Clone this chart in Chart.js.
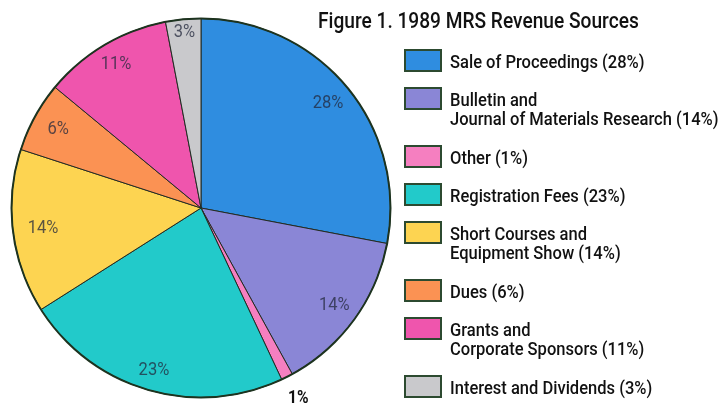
<!DOCTYPE html>
<html lang="en">

<head>
    <meta charset="UTF-8">
    <title>1989 MRS Revenue Sources</title>
    <script src="https://cdn.jsdelivr.net/npm/chart.js"></script>
    <style>
        html, body {
            margin: 0;
            padding: 0;
            background: #ffffff;
        }

        .wrap {
            position: relative;
            width: 724px;
            height: 403px;
        }
    </style>
</head>

<body>
    <div class="wrap">
        <canvas id="receitas" width="724" height="403"></canvas>
    </div>
</body>

</html>

<script>
    // data
    var fontes = [
        ['Sale of Proceedings (28%)'],
        ['Bulletin and', 'Journal of Materials Research (14%)'],
        ['Other (1%)'],
        ['Registration Fees (23%)'],
        ['Short Courses and', 'Equipment Show (14%)'],
        ['Dues (6%)'],
        ['Grants and', 'Corporate Sponsors (11%)'],
        ['Interest and Dividends (3%)']
    ];
    var percentuais = [28, 14, 1, 23, 14, 6, 11, 3];
    var rotulos = ['28%', '14%', '1%', '23%', '14%', '6%', '11%', '3%'];
    var cores = ['#2f8de0', '#8a86d6', '#f57fc0', '#22caca', '#fdd451', '#fb9253', '#ef55ad', '#c9c9cc'];

    var titulo = 'Figure 1. 1989 MRS Revenue Sources';
    var fonte = 'Roboto, "Liberation Sans", Arial, sans-serif';
    var aperto = 0.87; // horizontal squeeze, the original uses a condensed face

    // radial position of each percent label (fraction of radius)
    var raioRotulo = [0.87, 0.87, 1.13, 0.89, 0.84, 0.86, 0.88, 0.93];

    function escreve(ctx, texto, x, y) {
        ctx.save();
        ctx.translate(x, y);
        ctx.scale(aperto, 1);
        ctx.fillText(texto, 0, 0);
        ctx.restore();
    }

    var desenhos = {
        id: 'desenhos',
        afterDatasetsDraw(chart) {
            var ctx = chart.ctx;
            var arcos = chart.getDatasetMeta(0).data;
            var cx = arcos[0].x, cy = arcos[0].y, r = arcos[0].outerRadius;

            // outer ring
            ctx.save();
            ctx.beginPath();
            ctx.arc(cx, cy, r, 0, Math.PI * 2);
            ctx.lineWidth = 2;
            ctx.strokeStyle = '#1d331f';
            ctx.stroke();

            // percent labels
            ctx.textAlign = 'center';
            ctx.textBaseline = 'middle';
            arcos.forEach((arco, i) => {
                var ang = (arco.startAngle + arco.endAngle) / 2;
                var d = r * raioRotulo[i];
                var x = cx + Math.cos(ang) * d;
                var y = cy + Math.sin(ang) * d;
                if (raioRotulo[i] > 1) {
                    ctx.font = 'bold 18px ' + fonte;
                    ctx.fillStyle = '#111111';
                } else {
                    ctx.font = '19px ' + fonte;
                    ctx.fillStyle = 'rgba(35, 40, 60, 0.75)';
                }
                escreve(ctx, rotulos[i], x, y);
            });

            // title
            ctx.textAlign = 'left';
            ctx.textBaseline = 'alphabetic';
            ctx.fillStyle = '#111111';
            ctx.font = '500 22px ' + fonte;
            escreve(ctx, titulo, 318, 28);

            // legend
            var y = 50;
            fontes.forEach((linhas, i) => {
                ctx.fillStyle = cores[i];
                ctx.fillRect(405, y, 36, 21);
                ctx.lineWidth = 2;
                ctx.strokeStyle = '#2c4a30';
                ctx.strokeRect(405, y, 36, 21);

                ctx.fillStyle = '#111111';
                ctx.font = '500 19px ' + fonte;
                linhas.forEach((t, k) => {
                    escreve(ctx, t, 450, y + 18 + k * 19);
                });
                y += linhas.length > 1 ? 58 : 38;
            });
            ctx.restore();
        }
    };

    var graficoReceitas = new Chart(document.getElementById('receitas').getContext('2d'), {
        type: 'pie',
        data: {
            labels: fontes.map(l => l.join(' ')),
            datasets: [{
                data: percentuais,
                backgroundColor: cores,
                borderColor: '#222a22',
                borderWidth: 1
            }]
        },
        options: {
            responsive: false,
            animation: false,
            layout: {
                padding: { left: 11, top: 18, right: 333, bottom: 5 }
            },
            plugins: {
                legend: { display: false },
                tooltip: { enabled: false }
            }
        },
        plugins: [desenhos]
    });
</script>
